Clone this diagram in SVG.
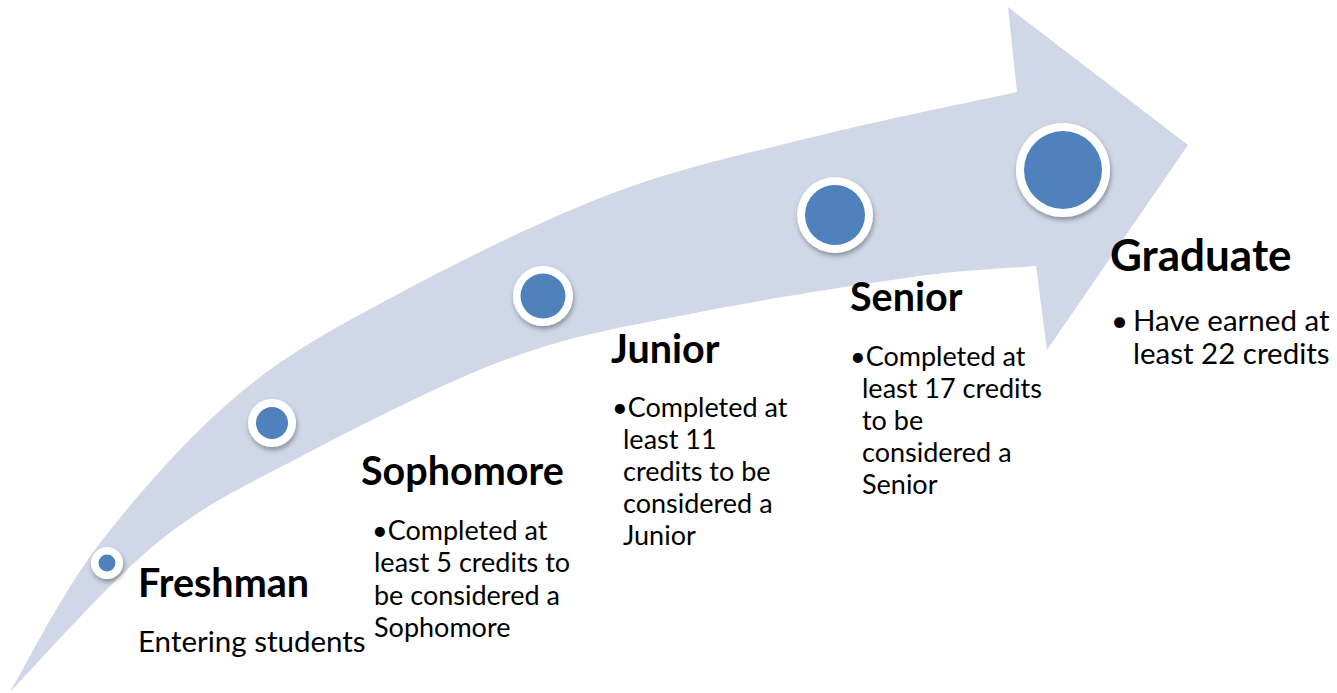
<svg xmlns="http://www.w3.org/2000/svg" width="1337" height="693" viewBox="0 0 1337 693">
  <defs>
    <filter id="sh" x="-50%" y="-50%" width="200%" height="200%">
      <feDropShadow dx="1" dy="3" stdDeviation="2.5" flood-color="#000" flood-opacity="0.35"/>
    </filter>
    <style>
      .arrow { fill: #D0D8E8; }
      .ring { fill: #FFFFFF; filter: url(#sh); }
      .dot { fill: #4F81BD; }
      .title { font-family: Lato, "Open Sans", sans-serif; font-weight: bold; font-size: 39.5px; fill: #000; }
      .big { font-size: 44px; }
      .body { font-family: Lato, "Open Sans", sans-serif; font-size: 29.5px; fill: #000; }
      .small { font-size: 27px; }
    </style>
  </defs>
  <rect width="1337" height="693" fill="#FFFFFF"/>
  <g id="connectors">
    <path class="arrow" d="M10,692 C25,667.2 61.7,592.8 100,543 C138.3,493.2 190,434.7 240,393 C290,351.3 337.8,326.3 400,293 C462.2,259.7 544.2,219 613,193 C681.8,167 745.7,153.8 813,137 C880.3,120.2 983,99.5 1017,92 L1008,7 L1188,145 L1047,350 L1036,266 C1015.5,268 969,269.2 913,277 C857,284.8 766.7,298.7 700,312 C633.3,325.3 579.7,332.8 513,357 C446.3,381.2 359.3,426 300,457 C240.7,488 205.3,503.8 157,543 C108.7,582.2 34.5,667.2 10,692 Z"/>
  </g>
  <g id="freshman">
    <circle class="ring" cx="107" cy="563" r="16"/>
    <circle class="dot" cx="107" cy="563" r="8.5"/>
    <text class="title" x="138" y="597">Freshman</text>
    <text class="body" x="138" y="652">Entering students</text>
  </g>
  <g id="sophomore">
    <circle class="ring" cx="272" cy="423" r="24"/>
    <circle class="dot" cx="272" cy="423" r="16"/>
    <text class="title" x="361" y="485">Sophomore</text>
    <text class="body small" x="372" y="540">•Completed at</text>
    <text class="body small" x="374" y="572">least 5 credits to</text>
    <text class="body small" x="374" y="605">be considered a</text>
    <text class="body small" x="374" y="637">Sophomore</text>
  </g>
  <g id="junior">
    <circle class="ring" cx="543" cy="296" r="30"/>
    <circle class="dot" cx="543" cy="296" r="22.5"/>
    <text class="title" x="611" y="363">Junior</text>
    <text class="body small" x="612" y="417">•Completed at</text>
    <text class="body small" x="623" y="449">least 11</text>
    <text class="body small" x="623" y="481">credits to be</text>
    <text class="body small" x="623" y="513">considered a</text>
    <text class="body small" x="623" y="545">Junior</text>
  </g>
  <g id="senior">
    <circle class="ring" cx="835" cy="215" r="38"/>
    <circle class="dot" cx="835" cy="215" r="30"/>
    <text class="title" x="850" y="311">Senior</text>
    <text class="body small" x="850" y="366">•Completed at</text>
    <text class="body small" x="862" y="398">least 17 credits</text>
    <text class="body small" x="862" y="430">to be</text>
    <text class="body small" x="862" y="462">considered a</text>
    <text class="body small" x="862" y="494">Senior</text>
  </g>
  <g id="graduate">
    <circle class="ring" cx="1063" cy="170" r="47"/>
    <circle class="dot" cx="1063" cy="170" r="39"/>
    <text class="title big" x="1110" y="271">Graduate</text>
    <text class="body" x="1111" y="331">•</text>
    <text class="body" x="1133" y="331">Have earned at</text>
    <text class="body" x="1133" y="364">least 22 credits</text>
  </g>
</svg>
